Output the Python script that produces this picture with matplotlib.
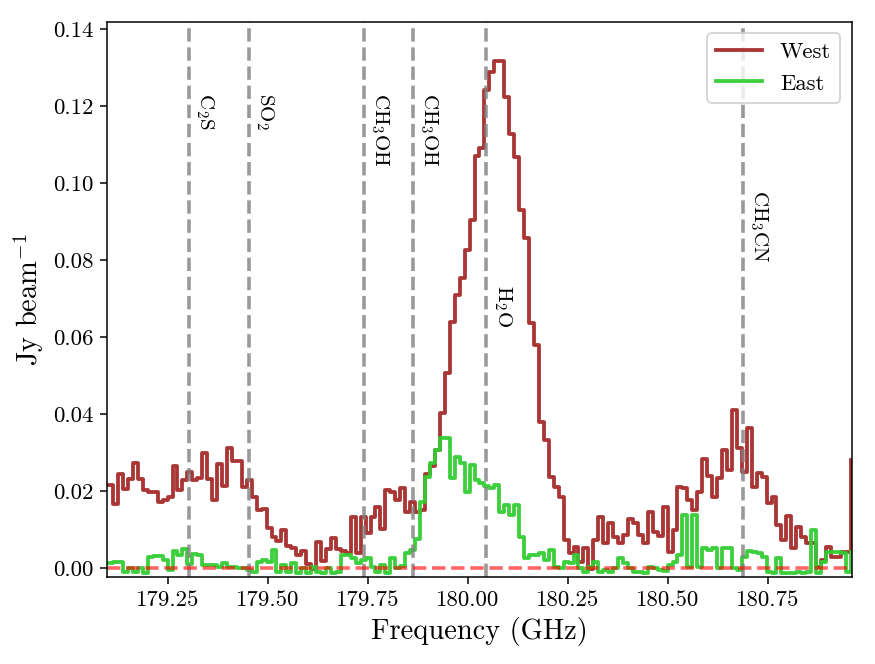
import matplotlib
matplotlib.use("Agg")
import matplotlib.pyplot as plt
import numpy as np

plt.rcParams.update({
    "font.family": "serif",
    "font.serif": ["cmr10"],
    "mathtext.fontset": "cm",
    "axes.formatter.use_mathtext": True,
})

# channel grid (GHz)
chan_start = 179.10125
chan_width = 0.012375

west = [0.0216, 0.0167, 0.0245, 0.0205, 0.0233, 0.0273, 0.0232, 0.0203, 0.0198, 0.0199,
        0.0173, 0.0178, 0.0185, 0.0265, 0.0203, 0.0229, 0.0250, 0.0229, 0.0235, 0.0300,
        0.0232, 0.0177, 0.0270, 0.0214, 0.0312, 0.0278, 0.0278, 0.0210, 0.0228, 0.0186,
        0.0150, 0.0155, 0.0104, 0.0082, 0.0070, 0.0100, 0.0058, 0.0052, 0.0035, 0.0045,
        0.0012, -0.0003, 0.0068, 0.0020, 0.0050, 0.0078, 0.0050, 0.0045, 0.0040, 0.0132,
        0.0040, 0.0132, 0.0091, 0.0132, 0.0160, 0.0102, 0.0202, 0.0199, 0.0178, 0.0208,
        0.0145, 0.0173, 0.0146, 0.0150, 0.0245, 0.0265, 0.0307, 0.0403, 0.0506, 0.0640,
        0.0710, 0.0753, 0.0827, 0.0905, 0.1071, 0.1093, 0.1242, 0.1290, 0.1319, 0.1319,
        0.1223, 0.1128, 0.1068, 0.0930, 0.0857, 0.0636, 0.0580, 0.0381, 0.0333, 0.0238,
        0.0212, 0.0186, 0.0074, 0.0039, 0.0056, 0.0015, 0.0052, -0.0003, 0.0074, 0.0134,
        0.0065, 0.0117, 0.0082, 0.0065, 0.0087, 0.0127, 0.0117, 0.0087, 0.0065, 0.0147,
        0.0095, 0.0084, 0.0158, 0.0043, 0.0100, 0.0210, 0.0208, 0.0177, 0.0152, 0.0199,
        0.0283, 0.0240, 0.0186, 0.0234, 0.0307, 0.0255, 0.0411, 0.0312, 0.0251, 0.0364,
        0.0212, 0.0247, 0.0238, 0.0169, 0.0186, 0.0113, 0.0074, 0.0136, 0.0052, 0.0108,
        0.0082, 0.0065, 0.0065, 0.0004, 0.0022, 0.0056, 0.0030, 0.0030, 0.0043, 0.0043,
        0.0280]

east = [0.0013, 0.0017, 0.0015, -0.0009, 0.0000, -0.0011, 0.0000, -0.0013, 0.0030, 0.0032,
        0.0032, 0.0022, -0.0005, 0.0046, 0.0035, 0.0050, 0.0012, 0.0037, 0.0035, 0.0009,
        0.0009, 0.0009, 0.0004, 0.0013, 0.0004, 0.0004, 0.0000, 0.0000, -0.0004, -0.0009,
        0.0017, 0.0022, 0.0017, 0.0048, -0.0010, 0.0009, -0.0010, 0.0013, -0.0012, 0.0000,
        -0.0013, 0.0004, -0.0009, -0.0012, 0.0000, -0.0012, -0.0010, 0.0035, 0.0035, 0.0026,
        0.0013, 0.0022, 0.0026, 0.0004, -0.0009, 0.0009, -0.0013, 0.0026, 0.0000, 0.0005,
        0.0040, 0.0048, 0.0076, 0.0173, 0.0238, 0.0273, 0.0307, 0.0338, 0.0338, 0.0234,
        0.0290, 0.0273, 0.0199, 0.0268, 0.0230, 0.0221, 0.0214, 0.0208, 0.0216, 0.0147,
        0.0165, 0.0139, 0.0165, 0.0082, 0.0026, 0.0035, 0.0035, 0.0039, 0.0022, 0.0048,
        0.0004, 0.0000, 0.0017, 0.0013, 0.0035, 0.0000, -0.0009, 0.0004, 0.0017, -0.0009,
        -0.0004, -0.0009, 0.0000, 0.0026, 0.0013, 0.0000, -0.0009, -0.0011, -0.0013, 0.0004,
        0.0000, -0.0004, -0.0006, 0.0009, 0.0017, 0.0035, 0.0139, 0.0004, 0.0139, 0.0004,
        0.0052, 0.0048, 0.0052, 0.0000, 0.0052, 0.0052, 0.0000, -0.0004, 0.0030, 0.0046,
        0.0043, 0.0040, 0.0030, -0.0009, -0.0013, 0.0026, -0.0013, -0.0013, -0.0013, -0.0011,
        -0.0013, -0.0011, 0.0100, -0.0013, 0.0017, 0.0043, 0.0043, 0.0043, 0.0039, -0.0010,
        0.0043]

line_names = ["C$_2$S", "SO$_2$", "CH$_3$OH", "CH$_3$OH", "H$_2$O", "CH$_3$CN"]
line_freqs = [179.3025, 179.4525, 179.740, 179.863, 180.0465, 180.6875]
label_y = [0.1235, 0.1235, 0.1235, 0.1235, 0.0736, 0.0983]

freq_w = chan_start + chan_width * np.arange(len(west))
freq_e = chan_start + chan_width * np.arange(len(east))

fig = plt.figure(figsize=(6.4, 4.857), dpi=136.72)
ax = fig.add_subplot(111)
fig.subplots_adjust(left=0.1226, right=0.9734, bottom=0.1315, top=0.9673)

ax.step(freq_w, west, where="post", color="brown", lw=2.0, alpha=0.95, label="West")
ax.step(freq_e, east, where="post", color="limegreen", lw=2.0, alpha=0.95, label="East")

for name, f, yy in zip(line_names, line_freqs, label_y):
    ax.axvline(f, color="gray", ls="--", lw=1.9, alpha=0.8)
    ax.text(f + 0.013, yy, name, rotation=-90, ha="left", va="top", fontsize=11)

ax.axhline(0.0, color="red", ls="--", lw=1.9, alpha=0.6)

ax.set_xlim(179.099, 180.960)
ax.set_ylim(-0.0022, 0.142)
ax.set_xticks([179.25, 179.50, 179.75, 180.00, 180.25, 180.50, 180.75])
ax.set_yticks(np.arange(0, 0.1401, 0.02))
ax.xaxis.set_major_formatter(matplotlib.ticker.FormatStrFormatter("%.2f"))
ax.yaxis.set_major_formatter(matplotlib.ticker.FormatStrFormatter("%.2f"))
ax.tick_params(labelsize=12)
ax.set_xlabel("Frequency (GHz)", fontsize=15)
ax.set_ylabel("Jy beam$^{-1}$", fontsize=15)
ax.legend(loc="upper right", fontsize=12)

fig.savefig("out.png", dpi=136.72)
